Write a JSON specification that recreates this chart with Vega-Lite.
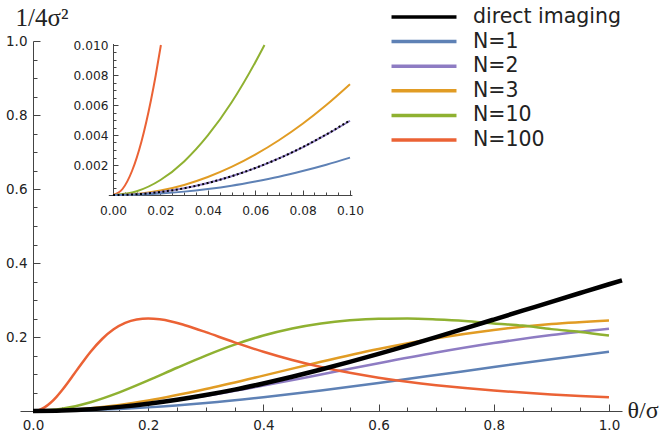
{
  "$schema": "https://vega.github.io/schema/vega-lite/v6.json",
  "width": 602,
  "height": 370,
  "autosize": {"type": "none"},
  "padding": {"left": 20, "top": 41, "right": 37, "bottom": 29},
  "background": "white",
  "config": {
    "view": {"stroke": null},
    "axis": {"grid": false, "domainColor": "#444", "tickColor": "#444", "labelColor": "#222", "labelFont": "DejaVu Sans", "labelOverlap": false, "labelFlush": false, "titleColor": "#222", "titleFontWeight": "normal"},
    "legend": {"orient": "none", "legendX": 391, "legendY": -37, "padding": 0, "symbolType": "M-3,0H3", "symbolSize": 469, "symbolStrokeWidth": 3.5, "symbolOpacity": 1, "labelFont": "DejaVu Sans", "labelFontSize": 20.5, "labelColor": "#222", "labelOffset": 36, "rowPadding": 0.6, "title": null}
  },
  "datasets": {
    "main": [
      {"s": "direct imaging", "x": 0, "y": 0},
      {"s": "direct imaging", "x": 0.05, "y": 0.00125},
      {"s": "direct imaging", "x": 0.1, "y": 0.00498},
      {"s": "direct imaging", "x": 0.15, "y": 0.01115},
      {"s": "direct imaging", "x": 0.2, "y": 0.01963},
      {"s": "direct imaging", "x": 0.25, "y": 0.03036},
      {"s": "direct imaging", "x": 0.3, "y": 0.04314},
      {"s": "direct imaging", "x": 0.35, "y": 0.05777},
      {"s": "direct imaging", "x": 0.4, "y": 0.0745},
      {"s": "direct imaging", "x": 0.45, "y": 0.0926},
      {"s": "direct imaging", "x": 0.5, "y": 0.1121},
      {"s": "direct imaging", "x": 0.55, "y": 0.1328},
      {"s": "direct imaging", "x": 0.6, "y": 0.1544},
      {"s": "direct imaging", "x": 0.65, "y": 0.1769},
      {"s": "direct imaging", "x": 0.7, "y": 0.1999},
      {"s": "direct imaging", "x": 0.75, "y": 0.2234},
      {"s": "direct imaging", "x": 0.8, "y": 0.2472},
      {"s": "direct imaging", "x": 0.85, "y": 0.2711},
      {"s": "direct imaging", "x": 0.9, "y": 0.2951},
      {"s": "direct imaging", "x": 0.95, "y": 0.3189},
      {"s": "direct imaging", "x": 1.0, "y": 0.3425},
      {"s": "direct imaging", "x": 1.0226, "y": 0.353},
      {"s": "N=1", "x": 0, "y": 0},
      {"s": "N=1", "x": 0.05, "y": 0.00062},
      {"s": "N=1", "x": 0.1, "y": 0.00249},
      {"s": "N=1", "x": 0.15, "y": 0.00556},
      {"s": "N=1", "x": 0.2, "y": 0.0098},
      {"s": "N=1", "x": 0.3, "y": 0.02152},
      {"s": "N=1", "x": 0.4, "y": 0.03698},
      {"s": "N=1", "x": 0.5, "y": 0.05536},
      {"s": "N=1", "x": 0.6, "y": 0.07575},
      {"s": "N=1", "x": 0.7, "y": 0.09722},
      {"s": "N=1", "x": 0.8, "y": 0.1189},
      {"s": "N=1", "x": 0.9, "y": 0.14},
      {"s": "N=1", "x": 1.0, "y": 0.16},
      {"s": "N=2", "x": 0, "y": 0},
      {"s": "N=2", "x": 0.05, "y": 0.00125},
      {"s": "N=2", "x": 0.1, "y": 0.00495},
      {"s": "N=2", "x": 0.15, "y": 0.011},
      {"s": "N=2", "x": 0.2, "y": 0.01922},
      {"s": "N=2", "x": 0.3, "y": 0.04121},
      {"s": "N=2", "x": 0.4, "y": 0.06859},
      {"s": "N=2", "x": 0.5, "y": 0.09877},
      {"s": "N=2", "x": 0.6, "y": 0.1293},
      {"s": "N=2", "x": 0.7, "y": 0.1581},
      {"s": "N=2", "x": 0.8, "y": 0.1837},
      {"s": "N=2", "x": 0.9, "y": 0.2052},
      {"s": "N=2", "x": 1.0, "y": 0.2222},
      {"s": "N=3", "x": 0, "y": 0},
      {"s": "N=3", "x": 0.05, "y": 0.00187},
      {"s": "N=3", "x": 0.1, "y": 0.00739},
      {"s": "N=3", "x": 0.15, "y": 0.01632},
      {"s": "N=3", "x": 0.2, "y": 0.02828},
      {"s": "N=3", "x": 0.3, "y": 0.05924},
      {"s": "N=3", "x": 0.4, "y": 0.09566},
      {"s": "N=3", "x": 0.5, "y": 0.133},
      {"s": "N=3", "x": 0.6, "y": 0.1674},
      {"s": "N=3", "x": 0.7, "y": 0.1965},
      {"s": "N=3", "x": 0.8, "y": 0.2191},
      {"s": "N=3", "x": 0.9, "y": 0.2351},
      {"s": "N=3", "x": 1.0, "y": 0.2449},
      {"s": "N=10", "x": 0, "y": 0},
      {"s": "N=10", "x": 0.05, "y": 0.00617},
      {"s": "N=10", "x": 0.1, "y": 0.0238},
      {"s": "N=10", "x": 0.15, "y": 0.05042},
      {"s": "N=10", "x": 0.2, "y": 0.08264},
      {"s": "N=10", "x": 0.25, "y": 0.1169},
      {"s": "N=10", "x": 0.3, "y": 0.1499},
      {"s": "N=10", "x": 0.35, "y": 0.1795},
      {"s": "N=10", "x": 0.4, "y": 0.2041},
      {"s": "N=10", "x": 0.45, "y": 0.2231},
      {"s": "N=10", "x": 0.5, "y": 0.2367},
      {"s": "N=10", "x": 0.55, "y": 0.2452},
      {"s": "N=10", "x": 0.6, "y": 0.2493},
      {"s": "N=10", "x": 0.65, "y": 0.2497},
      {"s": "N=10", "x": 0.7, "y": 0.2474},
      {"s": "N=10", "x": 0.75, "y": 0.2433},
      {"s": "N=10", "x": 0.8, "y": 0.2367},
      {"s": "N=10", "x": 0.85, "y": 0.2309},
      {"s": "N=10", "x": 0.9, "y": 0.2213},
      {"s": "N=10", "x": 0.95, "y": 0.2138},
      {"s": "N=10", "x": 1.0, "y": 0.2041},
      {"s": "N=100", "x": 0, "y": 0},
      {"s": "N=100", "x": 0.01, "y": 0.00249},
      {"s": "N=100", "x": 0.02, "y": 0.0098},
      {"s": "N=100", "x": 0.03, "y": 0.02152},
      {"s": "N=100", "x": 0.04, "y": 0.03698},
      {"s": "N=100", "x": 0.05, "y": 0.05536},
      {"s": "N=100", "x": 0.06, "y": 0.07575},
      {"s": "N=100", "x": 0.07, "y": 0.09722},
      {"s": "N=100", "x": 0.08, "y": 0.1189},
      {"s": "N=100", "x": 0.09, "y": 0.14},
      {"s": "N=100", "x": 0.1, "y": 0.16},
      {"s": "N=100", "x": 0.12, "y": 0.1946},
      {"s": "N=100", "x": 0.14, "y": 0.2207},
      {"s": "N=100", "x": 0.16, "y": 0.238},
      {"s": "N=100", "x": 0.18, "y": 0.2472},
      {"s": "N=100", "x": 0.2, "y": 0.25},
      {"s": "N=100", "x": 0.22, "y": 0.2477},
      {"s": "N=100", "x": 0.24, "y": 0.2419},
      {"s": "N=100", "x": 0.26, "y": 0.2336},
      {"s": "N=100", "x": 0.28, "y": 0.2237},
      {"s": "N=100", "x": 0.3, "y": 0.213},
      {"s": "N=100", "x": 0.35, "y": 0.1856},
      {"s": "N=100", "x": 0.4, "y": 0.16},
      {"s": "N=100", "x": 0.45, "y": 0.1377},
      {"s": "N=100", "x": 0.5, "y": 0.1189},
      {"s": "N=100", "x": 0.55, "y": 0.1031},
      {"s": "N=100", "x": 0.6, "y": 0.09},
      {"s": "N=100", "x": 0.65, "y": 0.079},
      {"s": "N=100", "x": 0.7, "y": 0.0698},
      {"s": "N=100", "x": 0.75, "y": 0.062},
      {"s": "N=100", "x": 0.8, "y": 0.0554},
      {"s": "N=100", "x": 0.85, "y": 0.0497},
      {"s": "N=100", "x": 0.9, "y": 0.0448},
      {"s": "N=100", "x": 0.95, "y": 0.0406},
      {"s": "N=100", "x": 1.0, "y": 0.037}
    ],
    "inset": [
      {"s": "N=100", "x": 0, "y": 0},
      {"s": "N=100", "x": 0.004, "y": 0.0004},
      {"s": "N=100", "x": 0.008, "y": 0.0016},
      {"s": "N=100", "x": 0.012, "y": 0.00357},
      {"s": "N=100", "x": 0.016, "y": 0.00632},
      {"s": "N=100", "x": 0.018, "y": 0.00797},
      {"s": "N=100", "x": 0.0202, "y": 0.01},
      {"s": "N=10", "x": 0, "y": 0},
      {"s": "N=10", "x": 0.01, "y": 0.00025},
      {"s": "N=10", "x": 0.02, "y": 0.001},
      {"s": "N=10", "x": 0.03, "y": 0.00224},
      {"s": "N=10", "x": 0.04, "y": 0.00397},
      {"s": "N=10", "x": 0.05, "y": 0.00617},
      {"s": "N=10", "x": 0.06, "y": 0.00884},
      {"s": "N=10", "x": 0.0639, "y": 0.01},
      {"s": "N=3", "x": 0, "y": 0},
      {"s": "N=3", "x": 0.01, "y": 0.000075},
      {"s": "N=3", "x": 0.02, "y": 0.0003},
      {"s": "N=3", "x": 0.03, "y": 0.00067},
      {"s": "N=3", "x": 0.04, "y": 0.0012},
      {"s": "N=3", "x": 0.05, "y": 0.00187},
      {"s": "N=3", "x": 0.06, "y": 0.00269},
      {"s": "N=3", "x": 0.07, "y": 0.00365},
      {"s": "N=3", "x": 0.08, "y": 0.00475},
      {"s": "N=3", "x": 0.09, "y": 0.006},
      {"s": "N=3", "x": 0.1, "y": 0.00739},
      {"s": "N=2", "x": 0, "y": 0},
      {"s": "N=2", "x": 0.01, "y": 0.00005},
      {"s": "N=2", "x": 0.02, "y": 0.0002},
      {"s": "N=2", "x": 0.03, "y": 0.00045},
      {"s": "N=2", "x": 0.04, "y": 0.0008},
      {"s": "N=2", "x": 0.05, "y": 0.00125},
      {"s": "N=2", "x": 0.06, "y": 0.00179},
      {"s": "N=2", "x": 0.07, "y": 0.00244},
      {"s": "N=2", "x": 0.08, "y": 0.00318},
      {"s": "N=2", "x": 0.09, "y": 0.00402},
      {"s": "N=2", "x": 0.1, "y": 0.00495},
      {"s": "N=1", "x": 0, "y": 0},
      {"s": "N=1", "x": 0.01, "y": 0.000025},
      {"s": "N=1", "x": 0.02, "y": 0.0001},
      {"s": "N=1", "x": 0.03, "y": 0.000225},
      {"s": "N=1", "x": 0.04, "y": 0.0004},
      {"s": "N=1", "x": 0.05, "y": 0.00062},
      {"s": "N=1", "x": 0.06, "y": 0.0009},
      {"s": "N=1", "x": 0.07, "y": 0.00122},
      {"s": "N=1", "x": 0.08, "y": 0.0016},
      {"s": "N=1", "x": 0.09, "y": 0.00202},
      {"s": "N=1", "x": 0.1, "y": 0.00249},
      {"s": "direct imaging", "x": 0, "y": 0},
      {"s": "direct imaging", "x": 0.01, "y": 0.00005},
      {"s": "direct imaging", "x": 0.02, "y": 0.0002},
      {"s": "direct imaging", "x": 0.03, "y": 0.00045},
      {"s": "direct imaging", "x": 0.04, "y": 0.0008},
      {"s": "direct imaging", "x": 0.05, "y": 0.00125},
      {"s": "direct imaging", "x": 0.06, "y": 0.0018},
      {"s": "direct imaging", "x": 0.07, "y": 0.00244},
      {"s": "direct imaging", "x": 0.08, "y": 0.00319},
      {"s": "direct imaging", "x": 0.09, "y": 0.00404},
      {"s": "direct imaging", "x": 0.1, "y": 0.00498}
    ]
  },
  "layer": [
    {
      "data": {"name": "main"},
      "layer": [
        {
          "transform": [{"filter": "datum.s !== 'direct imaging'"}],
          "mark": {"type": "line", "strokeWidth": 2.5, "interpolate": "monotone"},
          "encoding": {
            "x": {"field": "x", "type": "quantitative", "scale": {"domain": [-0.0226, 1.0226], "nice": false, "zero": false},
              "axis": {"orient": "bottom", "values": [0, 0.2, 0.4, 0.6, 0.8, 1.0], "format": ".1f", "tickSize": -7, "labelPadding": 14, "labelFontSize": 13.5,
                "title": "θ/σ", "titleFont": "Liberation Serif", "titleFontSize": 24, "titleX": 607, "titleY": 6, "titleAlign": "left", "titleBaseline": "alphabetic", "titleAngle": 0}},
            "y": {"field": "y", "type": "quantitative", "scale": {"domain": [0, 1], "nice": false, "zero": false},
              "axis": {"orient": "left", "offset": -13, "values": [0.2, 0.4, 0.6, 0.8, 1.0], "format": ".1f", "tickSize": -7, "labelPadding": 13, "labelFontSize": 13.5,
                "title": "1/4σ²", "titleFont": "Liberation Serif", "titleFontSize": 25, "titleAngle": 0, "titleX": -18, "titleY": -16, "titleAlign": "left", "titleBaseline": "alphabetic"}},
            "color": {"field": "s", "type": "nominal", "sort": null,
              "scale": {"domain": ["direct imaging", "N=1", "N=2", "N=3", "N=10", "N=100"], "range": ["#000000", "#5E81B5", "#8E7CC3", "#E19C24", "#8FB131", "#EB6235"]}}
          }
        },
        {
          "transform": [{"filter": "datum.s === 'direct imaging'"}],
          "mark": {"type": "line", "strokeWidth": 4.5, "interpolate": "monotone"},
          "encoding": {
            "x": {"field": "x", "type": "quantitative", "scale": {"domain": [-0.0226, 1.0226], "nice": false, "zero": false}, "axis": null},
            "y": {"field": "y", "type": "quantitative", "scale": {"domain": [0, 1], "nice": false, "zero": false}, "axis": null},
            "color": {"field": "s", "type": "nominal", "sort": null,
              "scale": {"domain": ["direct imaging", "N=1", "N=2", "N=3", "N=10", "N=100"], "range": ["#000000", "#5E81B5", "#8E7CC3", "#E19C24", "#8FB131", "#EB6235"]}}
          }
        },
        {
          "mark": {"type": "point", "opacity": 0},
          "encoding": {
            "x": {"field": "x", "type": "quantitative", "scale": {"domain": [-0.0226, 1.0226], "nice": false, "zero": false},
              "axis": {"orient": "bottom", "values": [0.05, 0.1, 0.15, 0.25, 0.3, 0.35, 0.45, 0.5, 0.55, 0.65, 0.7, 0.75, 0.85, 0.9, 0.95], "tickSize": -4, "labels": false, "domain": false, "title": null}},
            "y": {"field": "y", "type": "quantitative", "scale": {"domain": [0, 1], "nice": false, "zero": false},
              "axis": {"orient": "left", "offset": -13, "values": [0.05, 0.1, 0.15, 0.25, 0.3, 0.35, 0.45, 0.5, 0.55, 0.65, 0.7, 0.75, 0.85, 0.9, 0.95], "tickSize": -4, "labels": false, "domain": false, "title": null}}
          }
        }
      ],
      "resolve": {"axis": {"x": "independent", "y": "independent"}}
    },
    {
      "data": {"name": "inset"},
      "layer": [
        {
          "transform": [{"filter": "datum.s !== 'direct imaging'"}],
          "mark": {"type": "line", "strokeWidth": 2, "interpolate": "monotone"},
          "encoding": {
            "x": {"field": "x", "type": "quantitative", "scale": {"domain": [-0.002, 0.1008], "range": [88.3, 331.9], "nice": false, "zero": false},
              "axis": {"orient": "bottom", "offset": -216, "values": [0, 0.02, 0.04, 0.06, 0.08, 0.1], "format": ".2f", "tickSize": -5, "labelPadding": 14, "labelFontSize": 12.2, "title": null}},
            "y": {"field": "y", "type": "quantitative", "scale": {"domain": [0, 0.0101], "range": [154, 2.5], "nice": false, "zero": false},
              "axis": {"orient": "left", "offset": -93, "values": [0.002, 0.004, 0.006, 0.008, 0.01], "format": ".3f", "tickSize": -5, "labelPadding": 10, "labelFontSize": 12.2, "title": null}},
            "color": {"field": "s", "type": "nominal", "sort": null,
              "scale": {"domain": ["direct imaging", "N=1", "N=2", "N=3", "N=10", "N=100"], "range": ["#000000", "#5E81B5", "#8E7CC3", "#E19C24", "#8FB131", "#EB6235"]}}
          }
        },
        {
          "transform": [{"filter": "datum.s === 'direct imaging'"}],
          "mark": {"type": "line", "strokeWidth": 2, "strokeDash": [2, 2.5], "interpolate": "monotone"},
          "encoding": {
            "x": {"field": "x", "type": "quantitative", "scale": {"domain": [-0.002, 0.1008], "range": [88.3, 331.9], "nice": false, "zero": false}, "axis": null},
            "y": {"field": "y", "type": "quantitative", "scale": {"domain": [0, 0.0101], "range": [154, 2.5], "nice": false, "zero": false}, "axis": null},
            "color": {"field": "s", "type": "nominal", "sort": null,
              "scale": {"domain": ["direct imaging", "N=1", "N=2", "N=3", "N=10", "N=100"], "range": ["#000000", "#5E81B5", "#8E7CC3", "#E19C24", "#8FB131", "#EB6235"]}}
          }
        },
        {
          "mark": {"type": "point", "opacity": 0},
          "encoding": {
            "x": {"field": "x", "type": "quantitative", "scale": {"domain": [-0.002, 0.1008], "range": [88.3, 331.9], "nice": false, "zero": false},
              "axis": {"orient": "bottom", "offset": -216, "values": [0.005, 0.01, 0.015, 0.025, 0.03, 0.035, 0.045, 0.05, 0.055, 0.065, 0.07, 0.075, 0.085, 0.09, 0.095], "tickSize": -3, "labels": false, "domain": false, "title": null}},
            "y": {"field": "y", "type": "quantitative", "scale": {"domain": [0, 0.0101], "range": [154, 2.5], "nice": false, "zero": false},
              "axis": {"orient": "left", "offset": -93, "values": [0.0005, 0.001, 0.0015, 0.0025, 0.003, 0.0035, 0.0045, 0.005, 0.0055, 0.0065, 0.007, 0.0075, 0.0085, 0.009, 0.0095], "tickSize": -3, "labels": false, "domain": false, "title": null}}
          }
        }
      ],
      "resolve": {"axis": {"x": "independent", "y": "independent"}}
    }
  ],
  "resolve": {"scale": {"x": "independent", "y": "independent"}}
}
